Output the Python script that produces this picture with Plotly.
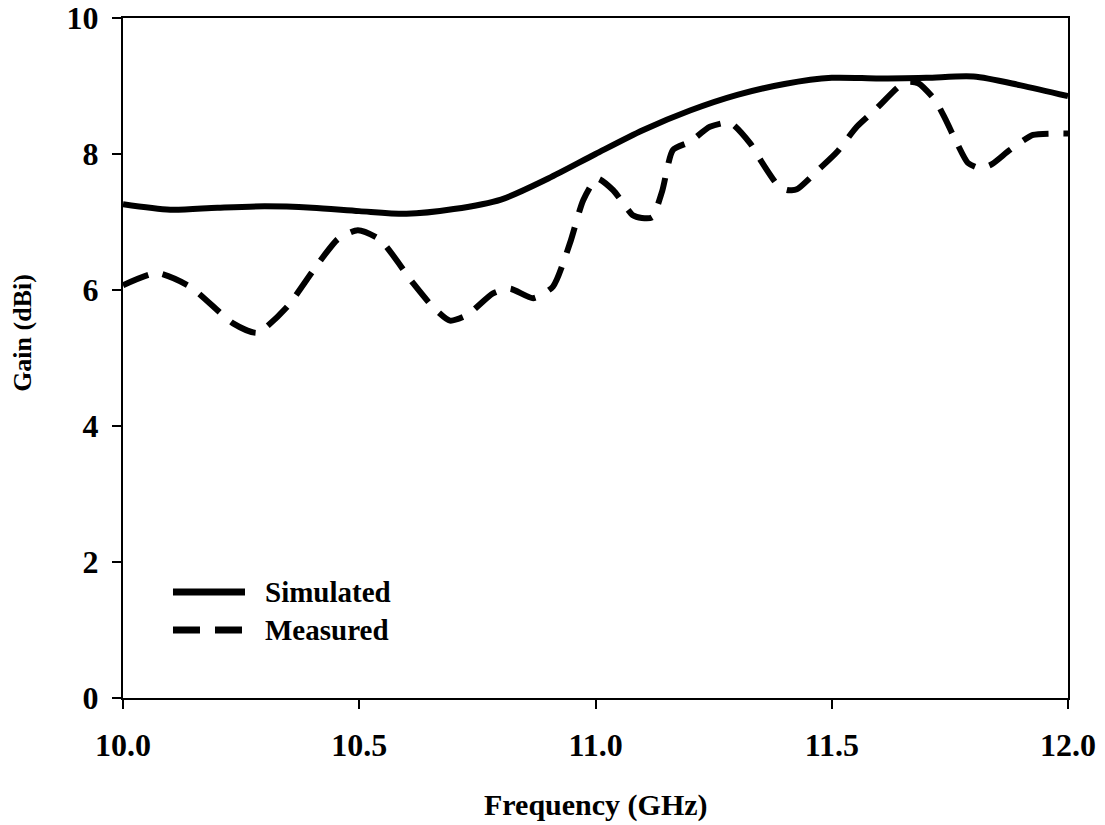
import plotly.graph_objects as go

# Simulated gain (dBi) versus frequency (GHz)
sim_freq = [10.0, 10.1, 10.2, 10.3, 10.4, 10.5, 10.6, 10.7, 10.8, 10.9,
            11.0, 11.1, 11.2, 11.3, 11.4, 11.5, 11.6, 11.7, 11.8, 11.9, 12.0]
sim_gain = [7.26, 7.18, 7.21, 7.23, 7.21, 7.16, 7.12, 7.19, 7.33, 7.64,
            8.00, 8.35, 8.64, 8.87, 9.03, 9.12, 9.11, 9.12, 9.14, 9.01, 8.85]

# Measured gain (dBi) versus frequency (GHz)
meas_freq = [10.000, 10.072, 10.142, 10.233, 10.284, 10.347, 10.411, 10.455, 10.497, 10.544,
             10.614, 10.656, 10.692, 10.728, 10.783, 10.819, 10.868, 10.910, 10.946, 10.974,
             11.003, 11.037, 11.079, 11.098, 11.120, 11.141, 11.164, 11.200, 11.242, 11.285,
             11.327, 11.352, 11.386, 11.405, 11.426, 11.475, 11.511, 11.553, 11.592, 11.640,
             11.661, 11.683, 11.719, 11.740, 11.765, 11.788, 11.814, 11.839, 11.877, 11.926,
             11.968, 12.000]
meas_gain = [6.07, 6.25, 6.05, 5.51, 5.37, 5.75, 6.37, 6.75, 6.88, 6.74,
             6.10, 5.75, 5.55, 5.63, 5.95, 6.02, 5.88, 6.05, 6.69, 7.32,
             7.64, 7.47, 7.10, 7.06, 7.07, 7.45, 8.06, 8.18, 8.40, 8.46,
             8.16, 7.88, 7.54, 7.47, 7.48, 7.79, 8.03, 8.40, 8.65, 8.98,
             9.06, 9.04, 8.79, 8.52, 8.16, 7.87, 7.79, 7.85, 8.06, 8.28,
             8.30, 8.30]

x_ticks = [10.0, 10.5, 11.0, 11.5, 12.0]
x_tick_labels = ["10.0", "10.5", "11.0", "11.5", "12.0"]
y_ticks = [0, 2, 4, 6, 8, 10]

FONT = "Liberation Serif, Times New Roman, serif"
DASH = "27px,15px"

fig = go.Figure()
fig.add_trace(go.Scatter(x=sim_freq, y=sim_gain, mode="lines", name="Simulated",
                         line=dict(color="black", width=6, shape="spline", smoothing=0.8)))
fig.add_trace(go.Scatter(x=meas_freq, y=meas_gain, mode="lines", name="Measured",
                         line=dict(color="black", width=6, dash=DASH, shape="spline", smoothing=0.6)))

# Hand-built legend: long line samples next to bold labels
legend_rows = [("Simulated", "solid", 0.1559), ("Measured", DASH, 0.10)]
for label, dash, yp in legend_rows:
    fig.add_shape(type="line", xref="paper", yref="paper", x0=0.0529, x1=0.1291, y0=yp, y1=yp,
                  line=dict(color="black", width=7, dash=dash))
    fig.add_annotation(xref="paper", yref="paper", x=0.1481, y=yp, text=label, showarrow=False,
                       xanchor="left", yanchor="middle",
                       font=dict(family=FONT, size=29, color="black", weight="bold"))

# Axis titles
fig.add_annotation(xref="paper", yref="paper", x=0.5, y=-0.158, text="Frequency (GHz)",
                   showarrow=False, xanchor="center", yanchor="middle",
                   font=dict(family=FONT, size=30, color="black", weight="bold"))
fig.add_annotation(xref="paper", yref="paper", x=-0.1058, y=0.537, text="Gain (dBi)",
                   showarrow=False, textangle=-90, xanchor="center", yanchor="middle",
                   font=dict(family=FONT, size=26, color="black", weight="bold"))

axis_common = dict(showline=True, linecolor="black", linewidth=2, mirror=True,
                   ticks="outside", ticklen=9, tickwidth=2, tickcolor="black",
                   showgrid=False, zeroline=False, automargin=False,
                   tickfont=dict(family=FONT, size=32, color="black", weight="bold"))

fig.update_layout(
    width=1105, height=825,
    margin=dict(l=123, r=37, t=18, b=127),
    paper_bgcolor="white", plot_bgcolor="white",
    showlegend=False,
    xaxis=dict(range=[10.0, 12.0], tickvals=x_ticks, ticktext=x_tick_labels,
               ticklabelstandoff=9, **axis_common),
    yaxis=dict(range=[0, 10], tickvals=y_ticks, ticklabelstandoff=7, **axis_common),
)

fig.write_html("out.html")
